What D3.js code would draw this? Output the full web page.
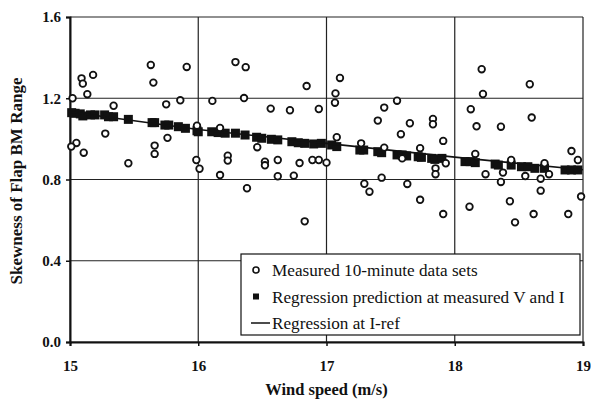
<!DOCTYPE html>
<html>
<head>
<meta charset="utf-8">
<script src="https://cdn.jsdelivr.net/npm/d3@7"></script>
<style>
  body { margin: 0; background: #fff; }
  text { font-family: "Liberation Serif", "Times New Roman", serif; fill: #111; }
</style>
</head>
<body>
<script>
// measured 10-minute data sets (wind speed, skewness)
var measuredV = [15.63, 15.91, 16.29, 15.18, 15.09, 15.10, 15.65, 15.135, 15.02, 15.34,
  15.75, 15.86, 16.11, 15.99, 16.17, 15.275, 15.76, 15.05, 15.66, 15.01,
  15.107, 15.455, 15.66, 15.985, 16.01, 16.23, 16.23, 16.17, 16.37, 16.845,
  17.105, 17.07, 17.066, 16.357, 16.565, 16.715, 16.94, 17.45, 17.40, 17.08,
  17.27, 17.45, 16.46, 16.52, 16.52, 16.62, 16.79, 16.89, 16.94, 17.00,
  16.62, 16.745, 17.43, 16.38, 17.295, 17.335, 16.83, 17.63, 17.59, 17.55,
  17.58, 17.65, 18.21, 18.585, 18.22, 18.125, 18.17, 18.36, 18.60, 17.83,
  17.83, 17.91, 17.73, 17.85, 17.85, 17.93, 17.73, 17.91, 18.16, 18.24,
  18.115, 18.376, 18.44, 18.36, 18.43, 18.47, 18.55, 18.615, 18.67, 18.67,
  18.70, 18.735, 18.91, 18.96, 18.885, 18.985];
var measuredS = [1.364, 1.354, 1.378, 1.315, 1.298, 1.272, 1.277, 1.22, 1.20, 1.163,
  1.17, 1.19, 1.187, 1.065, 1.054, 1.026, 1.005, 0.98, 0.967, 0.962,
  0.932, 0.88, 0.926, 0.896, 0.853, 0.917, 0.893, 0.822, 1.353, 1.26,
  1.30, 1.224, 1.178, 1.201, 1.149, 1.141, 1.147, 1.154, 1.09, 1.008,
  0.978, 0.957, 0.959, 0.888, 0.87, 0.896, 0.881, 0.896, 0.896, 0.883,
  0.816, 0.819, 0.809, 0.757, 0.779, 0.74, 0.594, 0.778, 0.904, 1.188,
  1.023, 1.077, 1.343, 1.269, 1.221, 1.146, 1.062, 1.06, 1.105, 1.098,
  1.072, 0.99, 0.954, 0.855, 0.826, 0.88, 0.70, 0.63, 0.926, 0.826,
  0.666, 0.834, 0.896, 0.788, 0.693, 0.589, 0.817, 0.63, 0.804, 0.745,
  0.88, 0.826, 0.94, 0.896, 0.63, 0.716];

// regression prediction at measured V and I
var predV = [15.013, 15.04, 15.08, 15.10, 15.16, 15.195, 15.27, 15.30, 15.34, 15.455,
  15.64, 15.66, 15.74, 15.77, 15.845, 15.90, 15.99, 16.0, 16.105, 16.155,
  16.21, 16.29, 16.365, 16.455, 16.495, 16.57, 16.62, 16.73, 16.78, 16.83,
  16.90, 16.96, 17.04, 17.08, 17.26, 17.29, 17.40, 17.43, 17.55, 17.59,
  17.625, 17.715, 17.74, 17.82, 17.845, 17.90, 18.08, 18.12, 18.16, 18.315,
  18.34, 18.44, 18.52, 18.57, 18.625, 18.70, 18.86, 18.91, 18.96];
var predS = [1.129, 1.126, 1.123, 1.113, 1.118, 1.118, 1.118, 1.109, 1.109, 1.096,
  1.080, 1.080, 1.068, 1.068, 1.060, 1.052, 1.040, 1.035, 1.035, 1.031,
  1.028, 1.028, 1.019, 1.008, 1.003, 0.998, 0.995, 0.986, 0.981, 0.978,
  0.975, 0.978, 0.970, 0.962, 0.945, 0.945, 0.937, 0.932, 0.921, 0.921,
  0.916, 0.912, 0.909, 0.904, 0.899, 0.904, 0.888, 0.888, 0.883, 0.876,
  0.871, 0.871, 0.863, 0.863, 0.855, 0.855, 0.847, 0.847, 0.847];

// regression at I-ref
var refV = [15, 16, 17, 18, 19];
var refS = [1.132, 1.046, 0.978, 0.910, 0.848];

var xTicks = [15, 16, 17, 18, 19];
var yTicks = [0.0, 0.4, 0.8, 1.2, 1.6];
var legendLabels = ["Measured 10-minute data sets", "Regression prediction at measured V and I", "Regression at I-ref"];

var width = 591, height = 404;
var margin = {left: 70, right: 8, top: 17, bottom: 62};

var svg = d3.select("body").append("svg")
    .attr("width", width)
    .attr("height", height);

var x = d3.scaleLinear().domain([15, 19]).range([margin.left, width - margin.right]);
var y = d3.scaleLinear().domain([0, 1.6]).range([height - margin.bottom, margin.top]);

// grid lines
svg.append("g")
    .selectAll("line.vg")
    .data(xTicks)
    .enter().append("line")
    .attr("x1", function(d) { return x(d); })
    .attr("x2", function(d) { return x(d); })
    .attr("y1", y(0)).attr("y2", y(1.6))
    .attr("stroke", "#222").attr("stroke-width", 1.2);
svg.append("g")
    .selectAll("line.hg")
    .data(yTicks)
    .enter().append("line")
    .attr("y1", function(d) { return y(d); })
    .attr("y2", function(d) { return y(d); })
    .attr("x1", x(15)).attr("x2", x(19))
    .attr("stroke", "#222").attr("stroke-width", 1.2);

// axes
var xAxis = svg.append("g")
    .attr("transform", "translate(0," + y(0) + ")")
    .call(d3.axisBottom(x).tickValues(xTicks).tickSize(4).tickFormat(d3.format("d")));
var yAxis = svg.append("g")
    .attr("transform", "translate(" + x(15) + ",0)")
    .call(d3.axisLeft(y).tickValues(yTicks).tickSize(4).tickFormat(d3.format(".1f")));
[xAxis, yAxis].forEach(function(a) {
  a.select(".domain").attr("stroke", "#111").attr("stroke-width", 2);
  a.selectAll(".tick line").attr("stroke", "#111").attr("stroke-width", 1.5);
  a.selectAll(".tick text")
    .style("font-family", "'Liberation Serif', serif")
    .style("font-size", "15px")
    .style("font-weight", "bold")
    .attr("fill", "#111");
});
xAxis.selectAll(".tick text").attr("dy", "1.45em");
yAxis.selectAll(".tick text").attr("x", -9);

// regression prediction squares
svg.append("g")
    .selectAll("rect")
    .data(predV)
    .enter().append("rect")
    .attr("x", function(d) { return x(d) - 4.5; })
    .attr("y", function(d, i) { return y(predS[i]) - 4.5; })
    .attr("width", 9).attr("height", 9)
    .attr("fill", "#111");

// regression line at I-ref
var line = d3.line()
    .x(function(d) { return x(d); })
    .y(function(d, i) { return y(refS[i]); });
svg.append("path")
    .datum(refV)
    .attr("d", line)
    .attr("fill", "none")
    .attr("stroke", "#111")
    .attr("stroke-width", 1.6);

// measured circles
svg.append("g")
    .selectAll("circle")
    .data(measuredV)
    .enter().append("circle")
    .attr("cx", function(d) { return x(d); })
    .attr("cy", function(d, i) { return y(measuredS[i]); })
    .attr("r", 3.3)
    .attr("fill", "#fff")
    .attr("stroke", "#111")
    .attr("stroke-width", 1.8);

// legend
var leg = svg.append("g").attr("transform", "translate(241,254)");
leg.append("rect")
    .attr("width", 339).attr("height", 81)
    .attr("fill", "#fff").attr("stroke", "#111").attr("stroke-width", 1.2);
var rows = leg.selectAll("g.row")
    .data(legendLabels)
    .enter().append("g")
    .attr("transform", function(d, i) { return "translate(0," + (16 + i * 26.5) + ")"; });
rows.append("text")
    .attr("x", 31)
    .attr("dy", "0.35em")
    .style("font-size", "17.2px")
    .text(function(d) { return d; });
leg.append("circle").attr("cx", 15).attr("cy", 16).attr("r", 3)
    .attr("fill", "#fff").attr("stroke", "#111").attr("stroke-width", 1.6);
leg.append("rect").attr("x", 12).attr("y", 39.5).attr("width", 6).attr("height", 6).attr("fill", "#111");
leg.append("line").attr("x1", 10).attr("x2", 29).attr("y1", 69).attr("y2", 69)
    .attr("stroke", "#111").attr("stroke-width", 1.5);

// axis titles
svg.append("text")
    .attr("x", x(17))
    .attr("y", 395)
    .attr("text-anchor", "middle")
    .style("font-size", "16.5px")
    .style("font-weight", "bold")
    .text("Wind speed (m/s)");
svg.append("text")
    .attr("transform", "translate(22," + 181 + ") rotate(-90)")
    .attr("text-anchor", "middle")
    .style("font-size", "17px")
    .style("font-weight", "bold")
    .text("Skewness of Flap BM Range");
</script>
</body>
</html>
